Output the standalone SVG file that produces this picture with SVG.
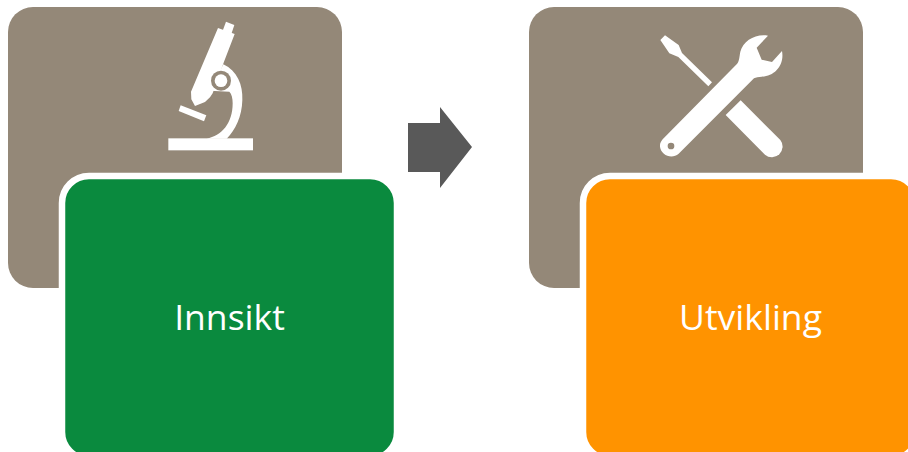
<svg xmlns="http://www.w3.org/2000/svg" width="908" height="452" viewBox="0 0 908 452">
<style>
.back{fill:#948878}
.front{stroke:#fff;stroke-width:6.5}
.icon{fill:#fff}
.hole{fill:#948878}
.label{fill:#fff;font-family:"Open Sans","Noto Sans","Liberation Sans",sans-serif;font-size:35.5px;text-anchor:middle}
</style>
<rect width="908" height="452" fill="#fff"/>
<g id="node-innsikt">
<rect class="back" x="8" y="7" width="334" height="281" rx="25"/>
<g transform="translate(150 10) scale(.33333)">
<path class="icon" d="M228,35L253,45L244,72L218,62Z"/>
<path class="icon" d="M204,54L254,72L222,155L188,250L180,262L165,276L135,288L124,268L123,245Z"/>
<path class="icon" d="M92,286L169,316L162,334L86,303Z"/>
<path class="icon" d="M220,163C262,183 279,225 277,270C276,320 256,360 230,386L170,386C215,378 248,340 248,280C248,265 245,252 238,245L180,242Z"/>
<rect class="icon" x="55" y="385" width="254" height="36"/>
<circle cx="213" cy="212" r="30" class="hole"/>
<circle cx="213" cy="212" r="19" class="icon"/>
</g>
<rect class="front" x="62" y="176" width="335" height="283" rx="27" fill="#0a8a3e"/>
<text class="label" x="229.500" y="330">Innsikt</text>
</g>
<g id="node-utvikling">
<rect class="back" x="529" y="7" width="334" height="281" rx="25"/>
<g transform="translate(650 25) scale(.33333)">
<path class="icon" d="M45,31L31,45L58,85L85,96L175,184L186,172L96,84L86,60Z"/>
<path class="icon" d="M272,226L227,270L345,389A32,32 0 0 0 391,345Z"/>
<path class="icon" fill-rule="evenodd" d="M354,32L320,68L335,104L366,111L396,78C404,120 374,154 335,155C325,156 318,156 312,160L86,386C65,404 33,390 30,365C29,355 33,350 38,343L260,118C268,110 268,95 271,80C280,48 315,26 354,32ZM63,353A10,10 0 1 0 63,373A10,10 0 1 0 63,353Z"/>
</g>
<rect class="front" x="583" y="176" width="335" height="283" rx="27" fill="#ff9300"/>
<text class="label" x="750.500" y="330">Utvikling</text>
</g>
<g id="connectors">
<path fill="#595959" d="M408,123H440V107L472,147L440,188V172H408Z"/>
</g>
</svg>
